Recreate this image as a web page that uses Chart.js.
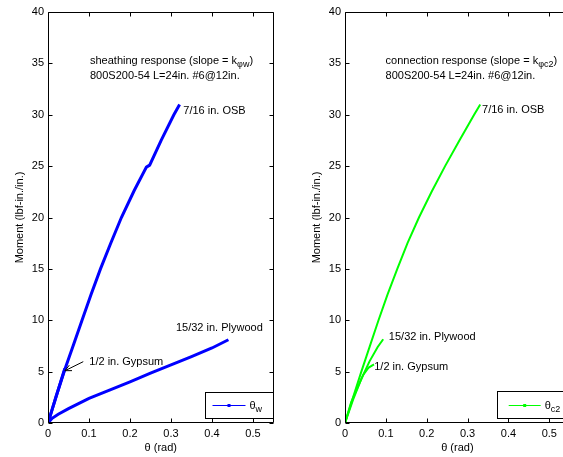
<!DOCTYPE html>
<html>
<head>
<meta charset="utf-8">
<script src="https://cdn.jsdelivr.net/npm/chart.js@4.4.1/dist/chart.umd.min.js"></script>
<style>
    html, body { margin: 0; padding: 0; background: #fff; overflow: hidden; width: 563px; height: 457px; }
    #c1 { position: absolute; left: 0; top: 0; }
    #c2 { position: absolute; left: 290px; top: 0; }
</style>
</head>
<body>
<canvas id="c1" width="290" height="457"></canvas>
<canvas id="c2" width="300" height="457"></canvas>
<script>
    "use strict";

    // axis ticks
    const thetaTicks = [0, 0.1, 0.2, 0.3, 0.4, 0.5];
    const momentTicks = [0, 5, 10, 15, 20, 25, 30, 35, 40];

    // sheathing response (theta_w)
    const wOsbTheta = [0, 0.01, 0.02, 0.041, 0.062, 0.083, 0.105, 0.128, 0.153, 0.179, 0.21, 0.24, 0.248, 0.276, 0.307, 0.321];
    const wOsbMoment = [0, 1.3, 2.6, 5.2, 7.6, 10, 12.5, 15, 17.5, 20, 22.6, 24.9, 25.1, 27.5, 30, 31];
    const wPlyTheta = [0, 0.01, 0.025, 0.05, 0.1, 0.15, 0.2, 0.25, 0.3, 0.35, 0.4, 0.44];
    const wPlyMoment = [0, 0.45, 0.85, 1.4, 2.4, 3.2, 4.0, 4.85, 5.65, 6.45, 7.3, 8.1];
    const wGypTheta = [0, 0.02, 0.041];
    const wGypMoment = [0, 2.6, 5.3];

    // connection response (theta_c2)
    const cOsbTheta = [0, 0.0198, 0.04, 0.061, 0.082, 0.104, 0.128, 0.153, 0.181, 0.212, 0.245, 0.28, 0.316, 0.331];
    const cOsbMoment = [0, 2.5, 5, 7.5, 10, 12.5, 15, 17.5, 20, 22.5, 25, 27.5, 30, 31];
    const cPlyTheta = [0, 0.02, 0.04, 0.06, 0.08, 0.0935];
    const cPlyMoment = [0, 2.3, 4.3, 6.0, 7.4, 8.15];
    const cGypTheta = [0, 0.015, 0.03, 0.045, 0.058, 0.071];
    const cGypMoment = [0, 2.0, 3.4, 4.7, 5.4, 5.7];

    const FONT = "'Liberation Sans', Arial, sans-serif";

    function pts(xs, ys) {
        return xs.map(function (x, i) { return { x: x, y: ys[i] }; });
    }

    // draws text made of normal and subscript pieces
    function richText(ctx, parts, x, y) {
        ctx.textBaseline = "middle";
        ctx.textAlign = "left";
        parts.forEach(function (p) {
            if (p.sub) {
                ctx.font = "9px " + FONT;
                ctx.fillText(p.t, x, y + 4);
            } else {
                ctx.font = "11px " + FONT;
                ctx.fillText(p.t, x, y);
            }
            x += ctx.measureText(p.t).width;
        });
    }

    const matlabAxes = {
        id: "matlabAxes",
        afterDraw(chart, args, opts) {
            const ctx = chart.ctx;
            const a = chart.chartArea;
            const xs = chart.scales.x, ys = chart.scales.y;
            ctx.save();
            ctx.strokeStyle = "#000";
            ctx.lineWidth = 1;
            const L = Math.round(a.left) + 0.5, R = Math.round(a.right) - 0.5;
            const T = Math.round(a.top) + 0.5, B = Math.round(a.bottom) - 0.5;
            ctx.beginPath();
            ctx.rect(L, T, R - L, B - T);
            thetaTicks.forEach(function (v) {
                const px = Math.round(xs.getPixelForValue(v)) + 0.5;
                ctx.moveTo(px, B); ctx.lineTo(px, B - 4);
                ctx.moveTo(px, T); ctx.lineTo(px, T + 4);
            });
            momentTicks.forEach(function (v) {
                const py = Math.round(ys.getPixelForValue(v)) + 0.5;
                ctx.moveTo(L, py); ctx.lineTo(L + 4, py);
                ctx.moveTo(R, py); ctx.lineTo(R - 4, py);
            });
            ctx.stroke();

            // annotations
            ctx.fillStyle = "#000";
            opts.notes.forEach(function (n) {
                richText(ctx, n.parts, xs.getPixelForValue(n.x), ys.getPixelForValue(n.y));
            });

            // arrow
            if (opts.arrow) {
                const x0 = xs.getPixelForValue(opts.arrow.from[0]), y0 = ys.getPixelForValue(opts.arrow.from[1]);
                const x1 = xs.getPixelForValue(opts.arrow.to[0]), y1 = ys.getPixelForValue(opts.arrow.to[1]);
                const ang = Math.atan2(y1 - y0, x1 - x0);
                ctx.beginPath();
                ctx.moveTo(x0, y0); ctx.lineTo(x1, y1);
                ctx.moveTo(x1 - 7 * Math.cos(ang - 0.45), y1 - 7 * Math.sin(ang - 0.45));
                ctx.lineTo(x1, y1);
                ctx.lineTo(x1 - 7 * Math.cos(ang + 0.45), y1 - 7 * Math.sin(ang + 0.45));
                ctx.stroke();
            }

            // legend box
            const lg = opts.legend;
            const bx = a.right - lg.w - 1, by = a.bottom - lg.h - 5;
            ctx.fillStyle = "#fff";
            ctx.fillRect(bx, by, lg.w, lg.h);
            ctx.lineWidth = 1;
            ctx.strokeStyle = "#000";
            ctx.strokeRect(Math.round(bx) + 0.5, Math.round(by) + 0.5, lg.w, lg.h);
            const ly = Math.round(by + lg.h / 2) + 0.5;
            ctx.strokeStyle = lg.color;
            ctx.beginPath();
            ctx.moveTo(bx + lg.x0, ly); ctx.lineTo(bx + lg.x1, ly);
            ctx.stroke();
            ctx.fillStyle = lg.color;
            const mx = bx + (lg.x0 + lg.x1) / 2;
            ctx.fillRect(mx - 1.5, ly - 1.5, 3, 3);
            ctx.fillStyle = "#000";
            richText(ctx, lg.parts, bx + lg.x1 + 4, ly);
            ctx.restore();
        }
    };

    function makeChart(id, series, color, lineW, yWidth, yTitlePad, rightPad, extra) {
        return new Chart(document.getElementById(id), {
            type: "scatter",
            data: {
                datasets: series.map(function (s) {
                    return {
                        data: s,
                        showLine: true,
                        borderColor: color,
                        backgroundColor: color,
                        borderWidth: lineW,
                        pointRadius: 0,
                        tension: 0,
                    };
                }),
            },
            plugins: [matlabAxes],
            options: {
                responsive: false,
                animation: false,
                layout: { padding: { top: 12, right: rightPad, left: 0, bottom: 0 } },
                plugins: {
                    legend: { display: false },
                    tooltip: { enabled: false },
                    matlabAxes: extra,
                },
                scales: {
                    x: {
                        type: "linear",
                        min: 0,
                        max: 0.55,
                        afterBuildTicks: function (s) { s.ticks = thetaTicks.map(function (v) { return { value: v }; }); },
                        afterFit: function (s) { s.height = 34; },
                        grid: { display: false, drawTicks: false },
                        border: { display: false },
                        ticks: {
                            color: "#000",
                            font: { family: FONT, size: 11 },
                            padding: 4,
                            maxRotation: 0,
                            autoSkip: false,
                            callback: function (v) { return String(v); },
                        },
                        title: {
                            display: true,
                            text: "θ (rad)",
                            color: "#000",
                            font: { family: FONT, size: 11 },
                            padding: { top: 0, bottom: 2 },
                        },
                    },
                    y: {
                        type: "linear",
                        min: 0,
                        max: 40,
                        afterBuildTicks: function (s) { s.ticks = momentTicks.map(function (v) { return { value: v }; }); },
                        afterFit: function (s) { s.width = yWidth; },
                        grid: { display: false, drawTicks: false },
                        border: { display: false },
                        ticks: {
                            color: "#000",
                            font: { family: FONT, size: 11 },
                            padding: 4,
                            autoSkip: false,
                        },
                        title: {
                            display: true,
                            text: "Moment (lbf-in./in.)",
                            color: "#000",
                            font: { family: FONT, size: 11 },
                            padding: { top: yTitlePad, bottom: 0 },
                        },
                    },
                },
            },
        });
    }

    makeChart("c1",
        [pts(wOsbTheta, wOsbMoment), pts(wPlyTheta, wPlyMoment), pts(wGypTheta, wGypMoment)],
        "#0000ff", 3, 48, 13.4, 16.5,
        {
            notes: [
                { x: 0.1024, y: 35.26, parts: [{ t: "sheathing response (slope = k" }, { t: "φw", sub: true }, { t: ")" }] },
                { x: 0.1024, y: 33.77, parts: [{ t: "800S200-54 L=24in. #6@12in." }] },
                { x: 0.330, y: 30.37, parts: [{ t: "7/16 in. OSB" }] },
                { x: 0.312, y: 9.21, parts: [{ t: "15/32 in. Plywood" }] },
                { x: 0.1007, y: 5.97, parts: [{ t: "1/2 in. Gypsum" }] },
            ],
            arrow: { from: [0.086, 5.97], to: [0.0415, 5.09] },
            legend: { w: 68, h: 26, x0: 8, x1: 41, color: "#0000ff", parts: [{ t: "θ" }, { t: "w", sub: true }] },
        });

    makeChart("c2",
        [pts(cOsbTheta, cOsbMoment), pts(cPlyTheta, cPlyMoment), pts(cGypTheta, cGypMoment)],
        "#00ff00", 2, 55, 20.4, 20.3,
        {
            notes: [
                { x: 0.0993, y: 35.26, parts: [{ t: "connection response (slope = k" }, { t: "φc2", sub: true }, { t: ")" }] },
                { x: 0.0993, y: 33.77, parts: [{ t: "800S200-54 L=24in. #6@12in." }] },
                { x: 0.3354, y: 30.46, parts: [{ t: "7/16 in. OSB" }] },
                { x: 0.1073, y: 8.34, parts: [{ t: "15/32 in. Plywood" }] },
                { x: 0.0715, y: 5.45, parts: [{ t: "1/2 in. Gypsum" }] },
            ],
            arrow: null,
            legend: { w: 72, h: 27, x0: 12, x1: 44, color: "#00ff00", parts: [{ t: "θ" }, { t: "c2", sub: true }] },
        });
</script>
</body>
</html>
